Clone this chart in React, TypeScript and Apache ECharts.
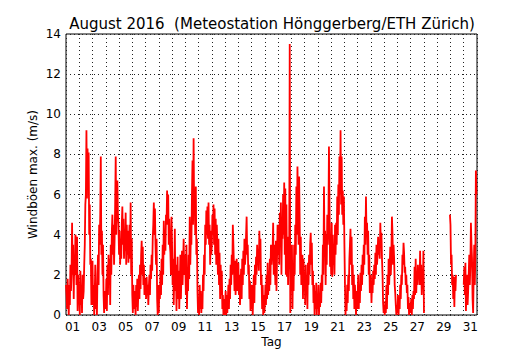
import React, { useEffect, useRef } from "react";
import * as echarts from "echarts";

const dayLabels = [
  "01", "02", "03", "04", "05", "06", "07", "08", "09", "10", "11", "12", "13", "14", "15", "16",
  "17", "18", "19", "20", "21", "22", "23", "24", "25", "26", "27", "28", "29", "30", "31",
];

// hourly maximum gust values (m/s), 24 per day; null = no data
const d01 = [1.5, 1.0, 0.3, 1.8, 0.8, 0.0, 1.5, 0.5, 2.5, 1.2, 2.0, 4.6, 2.0, 3.5, 0.8, 3.0, 2.0, 4.0, 3.8, 1.5, 3.9, 0.2, 2.0, 0.8];
const d02 = [1.0, 0.0, 2.2, 0.5, 1.5, 0.1, 2.0, 0.8, 1.2, 2.5, 3.5, 5.5, 6.0, 9.2, 5.8, 8.3, 6.5, 8.1, 4.0, 5.5, 2.5, 2.8, 0.5, 2.6];
const d03 = [2.7, 0.5, 1.5, 0.0, 1.0, 2.5, 0.3, 1.2, 0.0, 2.0, 3.0, 1.5, 4.5, 3.5, 5.0, 7.9, 3.0, 4.2, 2.0, 3.5, 1.0, 0.1, 1.2, 0.3];
const d04 = [0.5, 1.8, 0.2, 2.5, 1.0, 3.0, 1.5, 2.8, 0.5, 3.5, 2.0, 4.2, 5.0, 3.0, 4.5, 2.5, 3.8, 5.5, 7.9, 4.0, 6.0, 6.7, 5.0, 4.5];
const d05 = [3.0, 4.2, 2.5, 3.8, 2.8, 4.5, 5.4, 3.5, 4.8, 2.8, 4.0, 3.2, 5.1, 2.5, 4.5, 3.0, 4.2, 2.6, 3.5, 4.5, 2.8, 5.6, 2.0, 3.8];
const d06 = [1.0, 0.1, 1.5, 0.3, 1.2, 0.6, 0.0, 1.5, 0.4, 1.8, 0.2, 1.2, 2.0, 0.8, 2.5, 1.3, 3.0, 3.7, 2.0, 3.4, 1.5, 2.5, 1.0, 1.8];
const d07 = [1.5, 0.8, 1.9, 1.0, 1.5, 0.5, 1.4, 2.0, 1.0, 2.5, 1.8, 3.0, 2.2, 3.8, 4.5, 5.6, 4.0, 5.3, 3.5, 2.5, 3.8, 0.8, 0.0, 1.5];
const d08 = [0.1, 1.5, 0.8, 2.2, 1.0, 2.8, 1.5, 3.5, 2.0, 4.7, 3.0, 4.2, 3.2, 5.0, 4.5, 6.2, 4.5, 6.0, 3.5, 4.8, 3.5, 3.1, 2.0, 4.9];
const d09 = [3.5, 1.5, 2.8, 0.5, 2.0, 4.3, 1.2, 2.5, 0.2, 1.8, 2.9, 0.8, 2.2, 0.3, 1.5, 3.0, 0.8, 2.0, 3.2, 1.5, 2.6, 3.8, 2.0, 3.0];
const d10 = [2.5, 1.0, 3.5, 0.3, 2.0, 1.2, 3.0, 1.8, 4.9, 2.5, 4.0, 3.5, 6.0, 7.7, 4.5, 8.8, 5.0, 5.5, 4.0, 6.4, 3.0, 3.8, 1.2, 0.1];
const d11 = [0.8, 0.0, 1.5, 0.3, 1.2, 0.1, 1.0, 0.3, 2.0, 1.2, 3.0, 2.0, 4.5, 3.5, 5.2, 4.0, 5.4, 3.8, 5.6, 3.5, 4.5, 2.5, 4.2, 3.0];
const d12 = [3.5, 5.0, 4.0, 5.5, 3.5, 5.3, 3.0, 4.8, 2.5, 4.5, 3.5, 2.0, 3.8, 1.5, 3.1, 0.8, 2.5, 1.0, 2.2, 0.3, 1.0, 0.0, 0.8, 0.0];
const d13 = [0.5, 1.2, 0.0, 1.0, 0.1, 0.8, 1.5, 0.3, 1.8, 0.8, 2.5, 1.5, 3.0, 2.0, 4.5, 3.5, 2.5, 1.2, 2.7, 1.0, 2.1, 2.8, 1.2, 2.5];
const d14 = [2.6, 1.0, 2.0, 0.5, 1.5, 2.3, 0.8, 2.8, 1.5, 3.2, 2.0, 3.8, 2.5, 3.0, 4.0, 4.9, 3.0, 3.5, 2.0, 2.5, 0.8, 1.7, 0.2, 1.5];
const d15 = [0.3, 1.5, 0.0, 1.0, 2.0, 0.6, 2.5, 1.5, 2.9, 2.0, 3.5, 2.5, 3.0, 2.2, 4.2, 3.0, 3.8, 1.5, 2.0, 0.3, 1.5, 0.0, 1.0, 0.1];
const d16 = [0.5, 1.5, 0.5, 2.0, 0.8, 2.6, 1.0, 2.2, 1.2, 2.8, 1.5, 3.5, 2.5, 3.0, 3.2, 4.6, 2.0, 3.5, 2.7, 1.5, 3.7, 1.2, 2.8, 4.5];
const d17 = [3.0, 4.5, 2.5, 5.1, 3.5, 5.6, 2.0, 4.5, 3.8, 6.0, 4.0, 6.6, 3.0, 6.3, 2.0, 5.5, 1.9, 3.9, 1.5, 3.0, 2.5, 13.5, 0.1, 2.8];
const d18 = [1.5, 3.5, 0.3, 2.5, 1.2, 3.5, 2.0, 4.5, 3.0, 6.4, 4.0, 7.4, 5.0, 3.5, 6.9, 4.7, 2.0, 3.9, 1.5, 2.5, 3.0, 0.8, 2.8, 1.5];
const d19 = [2.0, 0.5, 2.5, 1.2, 1.8, 0.3, 2.6, 1.5, 3.0, 2.0, 3.5, 4.1, 2.5, 3.6, 1.5, 2.2, 0.6, 1.5, 0.0, 1.2, 0.3, 1.6, 0.0, 1.0];
const d20 = [0.3, 1.5, 0.0, 1.0, 0.4, 1.6, 0.6, 2.0, 1.2, 3.5, 2.0, 6.4, 3.0, 4.2, 1.5, 4.0, 2.5, 5.0, 3.5, 4.5, 8.4, 5.5, 2.4, 3.5];
const d21 = [2.0, 4.6, 1.9, 4.0, 2.5, 3.5, 2.0, 4.5, 3.0, 4.6, 3.5, 5.9, 4.0, 6.5, 5.0, 7.9, 6.0, 9.2, 5.5, 7.9, 5.0, 6.2, 4.5, 5.9];
const d22 = [3.5, 1.5, 0.0, 1.0, 0.2, 1.5, 0.6, 2.0, 1.2, 2.8, 3.5, 4.3, 2.5, 3.9, 1.5, 2.5, 0.8, 2.0, 0.3, 1.5, 0.8, 0.0, 1.2, 0.3];
const d23 = [1.0, 2.0, 0.3, 1.5, 0.6, 2.1, 1.2, 2.5, 1.5, 3.0, 2.0, 3.5, 2.5, 4.9, 3.5, 5.9, 4.0, 4.6, 3.0, 4.2, 2.0, 3.0, 1.1, 1.7];
const d24 = [2.0, 0.6, 1.7, 1.1, 2.2, 1.5, 2.5, 1.8, 3.1, 2.0, 3.5, 2.5, 3.0, 3.9, 3.0, 3.5, 2.8, 4.6, 3.5, 4.1, 2.8, 2.0, 0.6, 0.1];
const d25 = [0.5, 0.0, 0.7, 0.1, 1.5, 0.3, 2.0, 1.0, 2.8, 1.5, 2.5, 3.4, 2.0, 3.0, 4.9, 4.1, 2.5, 3.5, 2.8, 1.5, 1.1, 0.5, 0.0, 0.5];
const d26 = [0.1, 1.0, 0.0, 0.8, 0.3, 1.5, 0.8, 2.0, 1.5, 3.0, 2.5, 3.6, 3.1, 2.1, 2.4, 1.5, 2.0, 1.1, 1.5, 0.3, 0.9, 0.0, 0.6, 0.1];
const d27 = [0.1, 0.8, 0.0, 1.0, 0.3, 1.2, 0.8, 2.4, 1.0, 2.8, 1.1, 2.0, 1.5, 2.5, 1.8, 2.2, 1.5, 3.2, 1.5, 2.5, 1.0, 2.0, 1.5, 3.2];
const d28 = [0.1, null, null, null, null, null, null, null, null, null, null, null, null, null, null, null, null, null, null, null, null, null, null, null];
const d29 = [null, null, null, null, null, null, null, null, null, null, null, null, null, null, null, null, null, null, null, null, null, null, null, 5.0];
const d30 = [4.5, 2.5, 3.0, 1.5, 2.0, 0.8, 1.9, 0.4, 1.9, 1.2, 2.0, null, null, null, null, null, null, null, null, null, null, null, null, null];
const d31 = [1.5, 2.4, 1.0, 2.6, 0.2, 1.5, 2.0, 0.5, 1.2, 2.0, 3.0, 1.5, 2.5, 4.6, 3.5, 2.8, 0.8, 0.1, 2.0, 3.5, 1.5, 2.8, 7.2, 6.0];

const hourly = [
  d01, d02, d03, d04, d05, d06, d07, d08, d09, d10, d11, d12, d13, d14, d15, d16,
  d17, d18, d19, d20, d21, d22, d23, d24, d25, d26, d27, d28, d29, d30, d31,
];

const FONT = "DejaVu Sans";

export default function App() {
  const ref = useRef<HTMLDivElement>(null);
  useEffect(() => {
    if (!ref.current) return;
    const chart = echarts.init(ref.current, undefined, { renderer: "svg" });
    const points: any[] = [];
    hourly.forEach((day, di) => {
      day.forEach((v, h) => {
        points.push([di + h / 24, v === null ? "-" : v]);
      });
    });
    const dotted = { color: "#222", width: 1, type: [1, 3] as any };
    chart.setOption({
      animation: false,
      backgroundColor: "#fff",
      title: {
        text: "August 2016  (Meteostation Hönggerberg/ETH Zürich)",
        left: 267,
        textAlign: "center",
        top: 11,
        textStyle: { fontFamily: FONT, fontSize: 15, fontWeight: "normal", color: "#000" },
      },
      grid: {
        left: 66,
        right: 53,
        top: 34,
        bottom: 35,
        outerBoundsMode: "none",
        containLabel: false,
        show: true,
        borderColor: "#000",
        borderWidth: 1,
        backgroundColor: "transparent",
      },
      xAxis: [
        {
          type: "category",
          data: dayLabels,
          boundaryGap: true,
          position: "bottom",
          name: "Tag",
          nameLocation: "middle",
          nameGap: 21,
          nameMoveOverlap: false,
          nameTextStyle: { fontFamily: FONT, fontSize: 12, color: "#000" },
          axisLine: { show: false },
          axisTick: { show: false },
          axisLabel: {
            interval: 1,
            margin: 6,
            fontFamily: FONT,
            fontSize: 12,
            color: "#000",
          },
          splitLine: { show: true, interval: 0, lineStyle: dotted },
        },
        {
          type: "value",
          min: 0,
          max: 31,
          show: false,
          splitLine: { show: false },
        },
      ],
      yAxis: {
        type: "value",
        min: 0,
        max: 14,
        interval: 2,
        name: "Windböen max. (m/s)",
        nameLocation: "middle",
        nameGap: 27,
        nameMoveOverlap: false,
        nameTextStyle: { fontFamily: FONT, fontSize: 12, color: "#000" },
        axisLine: { show: false },
        axisTick: { show: false },
        axisLabel: { margin: 5, fontFamily: FONT, fontSize: 12, color: "#000" },
        splitLine: { show: true, lineStyle: dotted },
      },
      series: [
        {
          type: "line",
          xAxisIndex: 1,
          data: points,
          showSymbol: false,
          connectNulls: false,
          lineStyle: { color: "#ff0000", width: 1.8 },
          itemStyle: { color: "#ff0000" },
        },
      ],
    });
    return () => chart.dispose();
  }, []);
  return (
    <div
      ref={ref}
      style={{ position: "fixed", left: 0, top: 0, width: 530, height: 350 }}
    />
  );
}
